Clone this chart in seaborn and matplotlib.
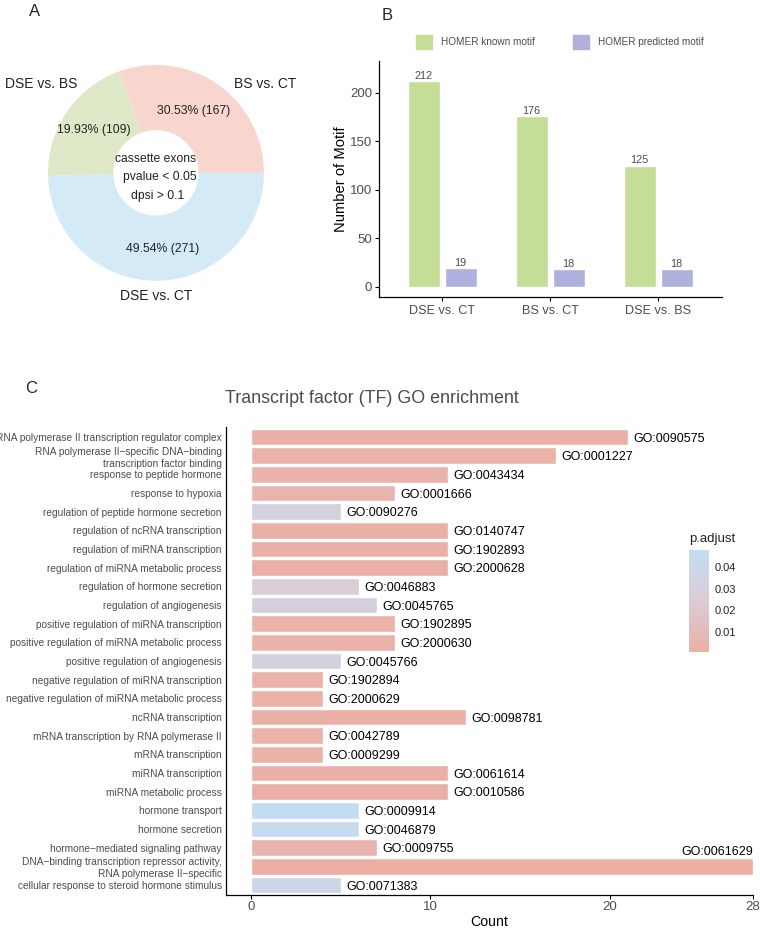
import numpy as np
import pandas as pd
import matplotlib
matplotlib.use("Agg")
import matplotlib.pyplot as plt
import seaborn as sns
from matplotlib.colors import LinearSegmentedColormap, Normalize
from matplotlib.patches import Patch

# ---- Panel A data
pie_labels = ["BS vs. CT", "DSE vs. BS", "DSE vs. CT"]
pie_counts = [167, 109, 271]
pie_pcts = ["30.53%", "19.93%", "49.54%"]
pie_colors = ["#F9D6CD", "#DFE8C6", "#D4EAF7"]

# ---- Panel B data
motif_groups = ["DSE vs. CT", "BS vs. CT", "DSE vs. BS"]
known_motif = [212, 176, 125]
predicted_motif = [19, 18, 18]

# ---- Panel C data
go_terms = [
    "RNA polymerase II transcription regulator complex",
    "RNA polymerase II\u2212specific DNA\u2212binding\ntranscription factor binding",
    "response to peptide hormone",
    "response to hypoxia",
    "regulation of peptide hormone secretion",
    "regulation of ncRNA transcription",
    "regulation of miRNA transcription",
    "regulation of miRNA metabolic process",
    "regulation of hormone secretion",
    "regulation of angiogenesis",
    "positive regulation of miRNA transcription",
    "positive regulation of miRNA metabolic process",
    "positive regulation of angiogenesis",
    "negative regulation of miRNA transcription",
    "negative regulation of miRNA metabolic process",
    "ncRNA transcription",
    "mRNA transcription by RNA polymerase II",
    "mRNA transcription",
    "miRNA transcription",
    "miRNA metabolic process",
    "hormone transport",
    "hormone secretion",
    "hormone\u2212mediated signaling pathway",
    "DNA\u2212binding transcription repressor activity,\nRNA polymerase II\u2212specific",
    "cellular response to steroid hormone stimulus",
]
go_ids = [
    "GO:0090575", "GO:0001227", "GO:0043434", "GO:0001666", "GO:0090276",
    "GO:0140747", "GO:1902893", "GO:2000628", "GO:0046883", "GO:0045765",
    "GO:1902895", "GO:2000630", "GO:0045766", "GO:1902894", "GO:2000629",
    "GO:0098781", "GO:0042789", "GO:0009299", "GO:0061614", "GO:0010586",
    "GO:0009914", "GO:0046879", "GO:0009755", "GO:0061629", "GO:0071383",
]
go_counts = [21, 17, 11, 8, 5, 11, 11, 11, 6, 7, 8, 8, 5, 4, 4,
             12, 4, 4, 11, 11, 6, 6, 7, 28, 5]
go_padj = [0.002, 0.003, 0.004, 0.005, 0.030, 0.002, 0.002, 0.002, 0.026, 0.029,
           0.003, 0.003, 0.030, 0.003, 0.003, 0.002, 0.003, 0.003, 0.002, 0.002,
           0.047, 0.043, 0.005, 0.001, 0.038]

sns.set_theme(style="white")
plt.rcParams["font.family"] = ["Liberation Sans", "DejaVu Sans"]
grey = "#4D4D4D"

fig = plt.figure(figsize=(7.6, 9.3), dpi=100)

# ---------------- A: donut
axA = fig.add_axes([0.0632, 0.698, 0.284, 0.2323])
wedges, _ = axA.pie(pie_counts, colors=pie_colors, startangle=0, counterclock=True,
                    radius=1, wedgeprops=dict(width=0.604, edgecolor="none"))
axA.set_xlim(-1, 1)
axA.set_ylim(-1, 1)
axA.set_aspect("equal")
tot = sum(pie_counts)
ang0 = 0
outer_pos = {"BS vs. CT": (1.01, 0.82), "DSE vs. BS": (-1.065, 0.82), "DSE vs. CT": (0.0, -1.14)}
for lab, c, p in zip(pie_labels, pie_counts, pie_pcts):
    mid = np.deg2rad(ang0 + 180 * c / tot)
    r = 0.70
    x, y = r * np.cos(mid), r * np.sin(mid)
    if lab == "DSE vs. CT":
        x += 0.05
        y = -0.71
    elif lab == "BS vs. CT":
        x -= 0.05
    axA.text(x, y, f"{p} ({c})", ha="center", va="center", fontsize=8.8, color="#222222")
    ox, oy = outer_pos[lab]
    axA.text(ox, oy, lab, ha="center", va="center", fontsize=10, color="#222222")
    ang0 += 360 * c / tot
axA.text(0, 0.13, "cassette exons", ha="center", va="center", fontsize=8.7, color="#222222")
axA.text(0.04, -0.04, "pvalue < 0.05", ha="center", va="center", fontsize=8.7, color="#222222")
axA.text(0.02, -0.21, "dpsi > 0.1", ha="center", va="center", fontsize=8.7, color="#222222")

# ---------------- B: motif bars
axB = fig.add_axes([0.4987, 0.6806, 0.4513, 0.2538])
dfB = pd.DataFrame({
    "group": motif_groups * 2,
    "count": known_motif + predicted_motif,
    "type": ["HOMER known motif"] * 3 + ["HOMER predicted motif"] * 3,
})
sns.barplot(data=dfB, x="group", y="count", hue="type", order=motif_groups,
            palette=["#C4DE98", "#AEB0DE"], width=0.685, gap=0.135,
            legend=False, ax=axB, saturation=1)
for cont in axB.containers:
    axB.bar_label(cont, fontsize=7.8, color=grey, padding=0.5)
axB.set_xlim(-0.583, 2.59)
axB.set_ylim(-10.6, 233)
axB.set_yticks([0, 50, 100, 150, 200])
axB.set_xlabel("")
axB.set_ylabel("Number of Motif", fontsize=10.6, color="black", labelpad=1)
for s in ["top", "right"]:
    axB.spines[s].set_visible(False)
for s in ["left", "bottom"]:
    axB.spines[s].set_color("black")
    axB.spines[s].set_linewidth(0.9)
axB.tick_params(axis="both", length=3, width=0.8, color="black", bottom=True, left=True)
axB.tick_params(axis="y", labelsize=9.5, labelcolor=grey, pad=2)
axB.tick_params(axis="x", labelsize=9.1, labelcolor=grey, pad=3)
fig.legend(handles=[Patch(color="#C4DE98", label="HOMER known motif"),
                    Patch(color="#AEB0DE", label="HOMER predicted motif")],
           loc="center left", bbox_to_anchor=(416 / 760, 1 - 42 / 930), ncol=2,
           frameon=False, fontsize=7.2, handlelength=1.6, handleheight=1.7,
           handletextpad=0.9, columnspacing=3.8, borderpad=0, borderaxespad=0,
           labelcolor=grey)

# ---------------- C: GO enrichment
cmap = LinearSegmentedColormap.from_list(
    "padj", [(0, "#EBAFA5"), (0.5, "#DBCCD5"), (1, "#C3DDF4")])
norm = Normalize(vmin=0.0008, vmax=0.0478)
dfC = pd.DataFrame({"term": go_terms, "count": go_counts, "padj": go_padj, "id": go_ids})
pal = {t: cmap(norm(p)) for t, p in zip(go_terms, go_padj)}

axC = fig.add_axes([0.2974, 0.0376, 0.6934, 0.5032])
sns.barplot(data=dfC, y="term", x="count", hue="term", palette=pal, order=go_terms,
            orient="h", width=0.9, legend=False, ax=axC, saturation=1)
axC.set_xlim(-1.4, 28)
axC.set_ylim(len(go_terms) - 0.464, -0.536)
axC.set_xticks([0, 10, 20, 28])
xmax = max(go_counts)
for i, (c, gid) in enumerate(zip(go_counts, go_ids)):
    if c == xmax:
        axC.text(c, i - 0.75, gid, ha="right", va="center", fontsize=9, color="black")
    else:
        axC.text(c + 0.3, i + 0.08, gid, ha="left", va="center", fontsize=9, color="black")
axC.set_ylabel("")
axC.set_xlabel("Count", fontsize=10.2, color="black", labelpad=1.5)
axC.set_title("Transcript factor (TF) GO enrichment", fontsize=12.9, color=grey, pad=17,
              loc="center", x=(372 - 226) / 527)
for s in ["top", "right"]:
    axC.spines[s].set_visible(False)
for s in ["left", "bottom"]:
    axC.spines[s].set_color("black")
    axC.spines[s].set_linewidth(0.9)
axC.tick_params(axis="x", length=3, width=0.8, color="black", bottom=True,
                labelsize=9.5, labelcolor=grey, pad=1)
axC.tick_params(axis="y", length=0, labelsize=7.25, labelcolor=grey, pad=3)
for t in axC.get_yticklabels():
    t.set_linespacing(1.25)

# colour bar
cax = fig.add_axes([689 / 760, (930 - 652) / 930, 20 / 760, 102 / 930])
sm = plt.cm.ScalarMappable(norm=norm, cmap=cmap)
cb = fig.colorbar(sm, cax=cax)
cb.outline.set_visible(False)
cb.set_ticks([0.01, 0.02, 0.03, 0.04])
cb.set_ticklabels(["0.01", "0.02", "0.03", "0.04"])
cax.tick_params(length=4, width=0.6, color="white", direction="in", labelsize=8,
                labelcolor="#222222", pad=4)
cax.set_title("p.adjust", fontsize=9.5, color="#222222", loc="left", pad=6)

# panel letters
fig.text(29 / 760, 1 - 12 / 930, "A", fontsize=12, va="center", ha="left")
fig.text(382 / 760, 1 - 15 / 930, "B", fontsize=12, va="center", ha="left")
fig.text(25 / 760, 1 - 388 / 930, "C", fontsize=12, va="center", ha="left")

fig.savefig("out.png", dpi=100)
